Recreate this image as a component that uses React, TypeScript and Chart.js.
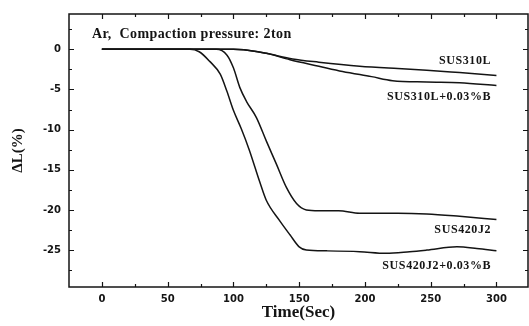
import React, { useEffect, useRef } from "react";
import { Chart, registerables } from "chart.js";

Chart.register(...registerables);

// ---- data ----
const t310L = [0, 50, 100, 108, 125, 145, 165, 196, 225, 247, 272, 300];
const sus310L = [0, 0, 0, -0.05, -0.5, -1.2, -1.6, -2.1, -2.4, -2.6, -2.9, -3.25];

const t310LB = [0, 50, 100, 108, 125, 143, 165, 183, 205, 221, 247, 272, 300];
const sus310LB = [0, 0, 0, -0.05, -0.5, -1.3, -2.1, -2.75, -3.4, -3.9, -4.07, -4.15, -4.5];

const t420J2 = [0, 50, 87, 95, 100, 105, 110, 117.5, 125, 132.7, 140.3, 148, 155.5, 165, 180, 196, 225, 247, 272, 300];
const sus420J2 = [0, 0, 0, -0.7, -2.3, -4.8, -6.5, -8.5, -11.4, -14.3, -17.2, -19.2, -20.0, -20.1, -20.1, -20.4, -20.4, -20.5, -20.8, -21.2];

const t420J2B = [0, 50, 67, 74, 82, 90, 95, 100, 106, 112, 120, 125, 135, 143, 150, 155.5, 171, 196, 216, 234, 247, 270, 285, 300];
const sus420J2B = [0, 0, 0, -0.3, -1.5, -3.1, -5.2, -7.6, -9.9, -12.5, -16.5, -18.8, -21.3, -23.1, -24.6, -25.0, -25.1, -25.2, -25.4, -25.2, -25.0, -24.6, -24.8, -25.1];

const xTicks = [0, 50, 100, 150, 200, 250, 300];
const yTicks = [-25, -20, -15, -10, -5, 0];

const seriesNames = ["SUS310L", "SUS310L+0.03%B", "SUS420J2", "SUS420J2+0.03%B"];
const noteText = "Ar,  Compaction pressure: 2ton";

const INK = "#141414";

function pts(t: number[], v: number[]) {
  return t.map((x, i) => ({ x, y: v[i] }));
}

const framePlugin = {
  id: "framePlugin",
  afterDraw(chart: any) {
    const { ctx, chartArea, scales } = chart;
    const { left, right, top, bottom } = chartArea;
    const xs = scales.x;
    const ys = scales.y;
    ctx.save();
    ctx.strokeStyle = INK;
    ctx.lineWidth = 1.5;
    ctx.strokeRect(left, top, right - left, bottom - top);
    ctx.lineWidth = 1.2;
    ctx.beginPath();
    for (let v = 0; v <= 300; v += 25) {
      const px = Math.round(xs.getPixelForValue(v)) + 0.5;
      const len = v % 50 === 0 ? 5 : 3;
      ctx.moveTo(px, bottom);
      ctx.lineTo(px, bottom - len);
      ctx.moveTo(px, top);
      ctx.lineTo(px, top + len);
    }
    for (let v = -27.5; v <= 2.5; v += 2.5) {
      const py = Math.round(ys.getPixelForValue(v)) + 0.5;
      const len = v % 5 === 0 ? 5 : 3;
      ctx.moveTo(left, py);
      ctx.lineTo(left + len, py);
      ctx.moveTo(right, py);
      ctx.lineTo(right - len, py);
    }
    ctx.stroke();

    ctx.fillStyle = INK;
    ctx.textBaseline = "middle";
    ctx.textAlign = "left";
    ctx.font = 'bold 14px "Liberation Serif"';
    (ctx as any).letterSpacing = "0.4px";
    ctx.fillText(noteText, left + 23, top + 20);

    ctx.font = 'bold 12px "Liberation Serif"';
    (ctx as any).letterSpacing = "0.6px";
    ctx.textAlign = "right";
    const rx = xs.getPixelForValue(296);
    ctx.fillText(seriesNames[0], rx, ys.getPixelForValue(-1.45));
    ctx.fillText(seriesNames[1], rx, ys.getPixelForValue(-5.95));
    ctx.fillText(seriesNames[2], rx, ys.getPixelForValue(-22.5));
    ctx.fillText(seriesNames[3], rx, ys.getPixelForValue(-26.95));
    (ctx as any).letterSpacing = "0px";
    ctx.restore();
  },
};

export default function App() {
  const ref = useRef<HTMLCanvasElement | null>(null);

  useEffect(() => {
    document.body.style.margin = "0";
    const canvas = ref.current;
    if (!canvas) return;
    const mk = (label: string, t: number[], v: number[]) => ({
      label,
      data: pts(t, v),
      borderColor: INK,
      borderWidth: 1.5,
      pointRadius: 0,
      fill: false,
      tension: 0.4,
      cubicInterpolationMode: "monotone" as const,
    });
    const tickFont = { family: '"DejaVu Sans"', size: 10, weight: "bold" as const };
    const chart = new Chart(canvas, {
      type: "line",
      data: {
        datasets: [
          mk(seriesNames[0], t310L, sus310L),
          mk(seriesNames[1], t310LB, sus310LB),
          mk(seriesNames[2], t420J2, sus420J2),
          mk(seriesNames[3], t420J2B, sus420J2B),
        ],
      },
      options: {
        animation: false,
        responsive: false,
        devicePixelRatio: 1,
        layout: { padding: { top: 12, right: 1, bottom: 0, left: 0 } },
        plugins: { legend: { display: false }, tooltip: { enabled: false } },
        scales: {
          x: {
            type: "linear",
            min: -25,
            max: 324,
            grid: { display: false, drawTicks: false },
            border: { display: false },
            afterBuildTicks: (s: any) => {
              s.ticks = xTicks.map((value) => ({ value }));
            },
            afterFit: (s: any) => {
              s.height = 39;
            },
            ticks: {
              padding: 6,
              color: INK,
              font: tickFont,
              maxRotation: 0,
            },
            title: {
              display: true,
              text: "Time(Sec)",
              color: INK,
              font: { family: '"Liberation Serif"', size: 17, weight: "bold" },
              padding: { top: 0, bottom: 3 },
            },
          },
          y: {
            type: "linear",
            min: -29.6,
            max: 4.4,
            grid: { display: false, drawTicks: false },
            border: { display: false },
            afterBuildTicks: (s: any) => {
              s.ticks = yTicks.map((value) => ({ value }));
            },
            afterFit: (s: any) => {
              s.width = 69;
            },
            ticks: {
              padding: 8,
              color: INK,
              font: tickFont,
            },
            title: {
              display: true,
              text: "ΔL(%)",
              color: INK,
              font: { family: '"Liberation Serif"', size: 15, weight: "bold" },
              padding: { top: 9, bottom: 0 },
            },
          },
        },
      },
      plugins: [framePlugin],
    });
    return () => chart.destroy();
  }, []);

  return <canvas ref={ref} width={529} height={326} style={{ display: "block" }} />;
}
